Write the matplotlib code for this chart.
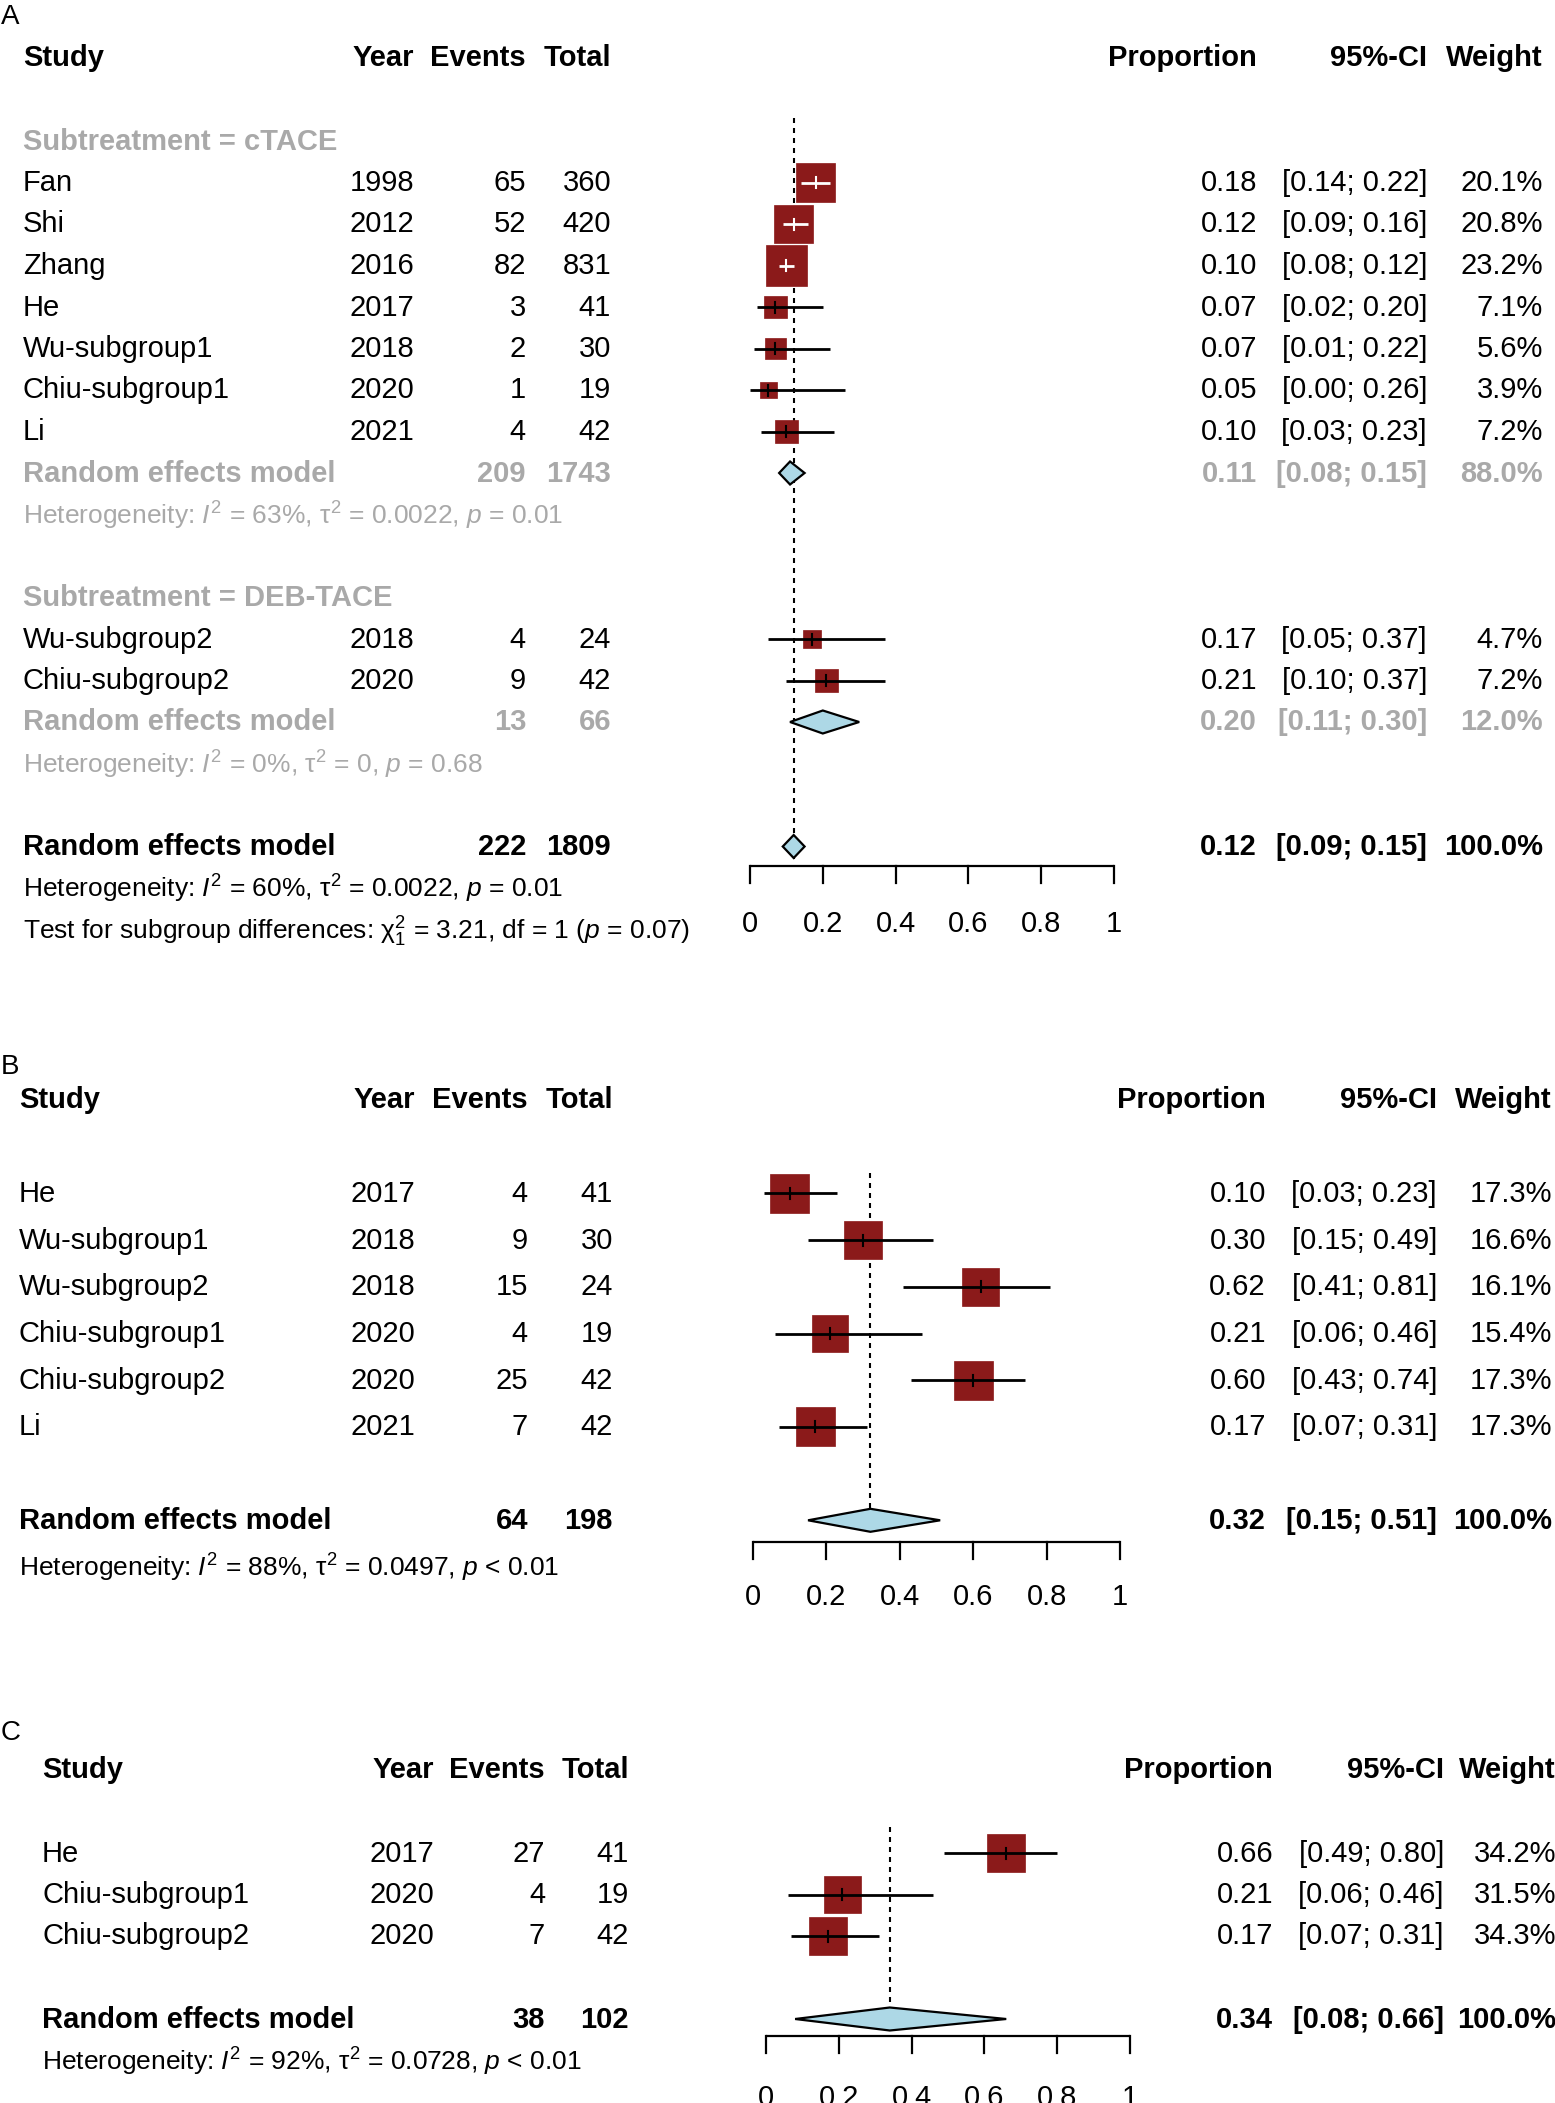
import numpy as np
import matplotlib as mpl
mpl.use('Agg')
import matplotlib.pyplot as plt
from matplotlib.patches import Rectangle, Polygon
from matplotlib.transforms import blended_transform_factory

W, H = 1555, 2103

plt.rcParams['font.family'] = ['Liberation Sans', 'DejaVu Sans']
plt.rcParams['mathtext.fontset'] = 'custom'
plt.rcParams['mathtext.rm'] = 'Liberation Sans'
plt.rcParams['mathtext.it'] = 'Liberation Sans:italic'
plt.rcParams['mathtext.bf'] = 'Liberation Sans:bold'

GREY = '#a9a9a9'
BOX = '#8b1a1a'
DIAMOND = '#add8e6'
FS = 21
FS_HET = 19
TEXT_SHIFT = 2.5  # pixels, text sits a touch above the row centre

HEADERS = ["Study", "Year", "Events", "Total", "Proportion", "95%-CI", "Weight"]
TICKS = [0, 0.2, 0.4, 0.6, 0.8, 1]
TICK_LABELS = ["0", "0.2", "0.4", "0.6", "0.8", "1"]

# ---- Panel A: subgroup cTACE
a1_study = ["Fan", "Shi", "Zhang", "He", "Wu-subgroup1", "Chiu-subgroup1", "Li"]
a1_year = [1998, 2012, 2016, 2017, 2018, 2020, 2021]
a1_events = [65, 52, 82, 3, 2, 1, 4]
a1_total = [360, 420, 831, 41, 30, 19, 42]
a1_prop = [0.18, 0.12, 0.10, 0.07, 0.07, 0.05, 0.10]
a1_lo = [0.14, 0.09, 0.08, 0.02, 0.01, 0.00, 0.03]
a1_hi = [0.22, 0.16, 0.12, 0.20, 0.22, 0.26, 0.23]
a1_weight = [20.1, 20.8, 23.2, 7.1, 5.6, 3.9, 7.2]
a1_pooled = (209, 1743, 0.11, 0.08, 0.15, 88.0)
a1_het = "Heterogeneity: $\\mathit{I}^2$ = 63%, τ$^2$ = 0.0022, $\\mathit{p}$ = 0.01"

# ---- Panel A: subgroup DEB-TACE
a2_study = ["Wu-subgroup2", "Chiu-subgroup2"]
a2_year = [2018, 2020]
a2_events = [4, 9]
a2_total = [24, 42]
a2_prop = [0.17, 0.21]
a2_lo = [0.05, 0.10]
a2_hi = [0.37, 0.37]
a2_weight = [4.7, 7.2]
a2_pooled = (13, 66, 0.20, 0.11, 0.30, 12.0)
a2_het = "Heterogeneity: $\\mathit{I}^2$ = 0%, τ$^2$ = 0, $\\mathit{p}$ = 0.68"

a_pooled = (222, 1809, 0.12, 0.09, 0.15, 100.0)
a_het = "Heterogeneity: $\\mathit{I}^2$ = 60%, τ$^2$ = 0.0022, $\\mathit{p}$ = 0.01"
a_test = "Test for subgroup differences: χ$^2_1$ = 3.21, df = 1 ($\\mathit{p}$ = 0.07)"

# ---- Panel B
b_study = ["He", "Wu-subgroup1", "Wu-subgroup2", "Chiu-subgroup1", "Chiu-subgroup2", "Li"]
b_year = [2017, 2018, 2018, 2020, 2020, 2021]
b_events = [4, 9, 15, 4, 25, 7]
b_total = [41, 30, 24, 19, 42, 42]
b_prop = [0.10, 0.30, 0.62, 0.21, 0.60, 0.17]
b_lo = [0.03, 0.15, 0.41, 0.06, 0.43, 0.07]
b_hi = [0.23, 0.49, 0.81, 0.46, 0.74, 0.31]
b_weight = [17.3, 16.6, 16.1, 15.4, 17.3, 17.3]
b_pooled = (64, 198, 0.32, 0.15, 0.51, 100.0)
b_het = "Heterogeneity: $\\mathit{I}^2$ = 88%, τ$^2$ = 0.0497, $\\mathit{p}$ < 0.01"

# ---- Panel C
c_study = ["He", "Chiu-subgroup1", "Chiu-subgroup2"]
c_year = [2017, 2020, 2020]
c_events = [27, 4, 7]
c_total = [41, 19, 42]
c_prop = [0.66, 0.21, 0.17]
c_lo = [0.49, 0.06, 0.07]
c_hi = [0.80, 0.46, 0.31]
c_weight = [34.2, 31.5, 34.3]
c_pooled = (38, 102, 0.34, 0.08, 0.66, 100.0)
c_het = "Heterogeneity: $\\mathit{I}^2$ = 92%, τ$^2$ = 0.0728, $\\mathit{p}$ < 0.01"


## LAYOUT (pixels)
# y0: pixel of header row, dy: pixel per row, x0/x1: pixel of proportion 0 and 1
# cols: study (left), year, events, total, proportion, CI, weight (right aligned)
LAYOUT = {
    'A': dict(label_y=17, y0=58, dy=41.5, x0=750, x1=1114, box=41,
              cols=[23, 414, 526, 611, 1257, 1427, 1543],
              axis_row=19.48, label_row=20.85, ref=(1.45, 19.3)),
    'B': dict(label_y=1067, y0=1100, dy=46.7, x0=753, x1=1120, box=39,
              cols=[19, 415, 528, 613, 1266, 1437, 1552],
              axis_row=9.46, label_row=10.64, ref=(1.56, 9.2)),
    'C': dict(label_y=1733, y0=1770, dy=41.5, x0=766, x1=1130, box=38,
              cols=[42, 434, 545, 629, 1273, 1444, 1556],
              axis_row=6.41, label_row=7.9, ref=(1.37, 6.2)),
}


def setup_panel(fig, name):
    lay = LAYOUT[name]
    scale = lay['x1'] - lay['x0']
    ax = fig.add_axes([0, 0, 1, 1])
    ax.set_xlim(-lay['x0'] / scale, (W - lay['x0']) / scale)
    ax.set_ylim((H - lay['y0']) / lay['dy'], -lay['y0'] / lay['dy'])
    ax.axis('off')
    ax.patch.set_alpha(0)
    tr = blended_transform_factory(fig.transFigure, ax.transData)
    fig.text(1 / W, 1 - lay['label_y'] / H, name, fontsize=20, va='center', ha='left')
    return ax, tr, lay


def row_text(ax, tr, lay, row, cells, color='black', weight='normal', fs=FS):
    y = row - TEXT_SHIFT / lay['dy']
    for i, txt in enumerate(cells):
        if txt is None:
            continue
        x = lay['cols'][i] / W
        ax.text(x, y, txt, transform=tr, ha='left' if i == 0 else 'right',
                va='center_baseline', fontsize=fs, color=color, fontweight=weight)


def left_text(ax, tr, lay, row, txt, color='black', fs=FS_HET):
    ax.text(lay['cols'][0] / W, row - TEXT_SHIFT / lay['dy'], txt, transform=tr,
            ha='left', va='center_baseline', fontsize=fs, color=color)


def est_cells(p, lo, hi, w):
    return ["%.2f" % p, "[%.2f; %.2f]" % (lo, hi), "%.1f%%" % w]


def draw_study(ax, lay, row, est, lo, hi, w, wmax):
    scale = lay['x1'] - lay['x0']
    side = lay['box'] * np.sqrt(w / wmax)
    hx = side / 2 / scale
    hy = side / 2 / lay['dy']
    ax.add_patch(Rectangle((est - hx, row - hy), 2 * hx, 2 * hy,
                           facecolor=BOX, edgecolor=BOX, lw=0.5, zorder=2))
    col = 'white' if (lo >= est - hx and hi <= est + hx) else 'black'
    ax.plot([lo, hi], [row, row], color=col, lw=2.0, solid_capstyle='butt', zorder=3)
    t = 5.5 / lay['dy']
    ax.plot([est, est], [row - t, row + t], color=col, lw=1.5, zorder=3)


def draw_diamond(ax, lay, row, est, lo, hi):
    h = 11.5 / lay['dy']
    ax.add_patch(Polygon([(lo, row), (est, row - h), (hi, row), (est, row + h)],
                         closed=True, facecolor=DIAMOND, edgecolor='black',
                         lw=1.6, zorder=4))


def draw_axis(ax, tr, lay, ref):
    r = lay['axis_row']
    ax.plot([TICKS[0], TICKS[-1]], [r, r], color='black', lw=1.6, zorder=3,
            solid_capstyle='butt')
    tick = 17 / lay['dy']
    for t, lab in zip(TICKS, TICK_LABELS):
        ax.plot([t, t], [r, r + tick], color='black', lw=1.6, zorder=3)
        ax.text(t, lay['label_row'] - TEXT_SHIFT / lay['dy'], lab, ha='center',
                va='center_baseline', fontsize=FS)
    ax.plot([ref, ref], list(lay['ref']), color='black', lw=1.5,
            ls=(0, (2.4, 2.4)), zorder=1)


def study_block(ax, tr, lay, first_row, study, year, events, total, prop, lo, hi, weight, wmax):
    for i in range(len(study)):
        r = first_row + i
        row_text(ax, tr, lay, r, [study[i], str(year[i]), str(events[i]), str(total[i])]
                 + est_cells(prop[i], lo[i], hi[i], weight[i]))
        draw_study(ax, lay, r, prop[i], lo[i], hi[i], weight[i], wmax)


def pooled_row(ax, tr, lay, row, pooled, color):
    ev, tot, p, lo, hi, w = pooled
    row_text(ax, tr, lay, row, ["Random effects model", None, str(ev), str(tot)]
             + est_cells(p, lo, hi, w), color=color, weight='bold')
    draw_diamond(ax, lay, row, p, lo, hi)


fig = plt.figure(figsize=(W / 100, H / 100), dpi=100)

# Panel A
ax, tr, lay = setup_panel(fig, 'A')
wmax = max(a1_weight + a2_weight)
row_text(ax, tr, lay, 0, HEADERS, weight='bold')
row_text(ax, tr, lay, 2, ["Subtreatment = cTACE"], color=GREY, weight='bold')
study_block(ax, tr, lay, 3, a1_study, a1_year, a1_events, a1_total,
            a1_prop, a1_lo, a1_hi, a1_weight, wmax)
pooled_row(ax, tr, lay, 10, a1_pooled, GREY)
left_text(ax, tr, lay, 11, a1_het, color=GREY)
row_text(ax, tr, lay, 13, ["Subtreatment = DEB-TACE"], color=GREY, weight='bold')
study_block(ax, tr, lay, 14, a2_study, a2_year, a2_events, a2_total,
            a2_prop, a2_lo, a2_hi, a2_weight, wmax)
pooled_row(ax, tr, lay, 16, a2_pooled, GREY)
left_text(ax, tr, lay, 17, a2_het, color=GREY)
pooled_row(ax, tr, lay, 19, a_pooled, 'black')
left_text(ax, tr, lay, 20, a_het)
left_text(ax, tr, lay, 21, a_test)
draw_axis(ax, tr, lay, a_pooled[2])

# Panel B
ax, tr, lay = setup_panel(fig, 'B')
row_text(ax, tr, lay, 0, HEADERS, weight='bold')
study_block(ax, tr, lay, 2, b_study, b_year, b_events, b_total,
            b_prop, b_lo, b_hi, b_weight, max(b_weight))
pooled_row(ax, tr, lay, 9, b_pooled, 'black')
left_text(ax, tr, lay, 10, b_het)
draw_axis(ax, tr, lay, b_pooled[2])

# Panel C
ax, tr, lay = setup_panel(fig, 'C')
row_text(ax, tr, lay, 0, HEADERS, weight='bold')
study_block(ax, tr, lay, 2, c_study, c_year, c_events, c_total,
            c_prop, c_lo, c_hi, c_weight, max(c_weight))
pooled_row(ax, tr, lay, 6, c_pooled, 'black')
left_text(ax, tr, lay, 7, c_het)
draw_axis(ax, tr, lay, c_pooled[2])

fig.savefig("out.png", dpi=100)
plt.close()
